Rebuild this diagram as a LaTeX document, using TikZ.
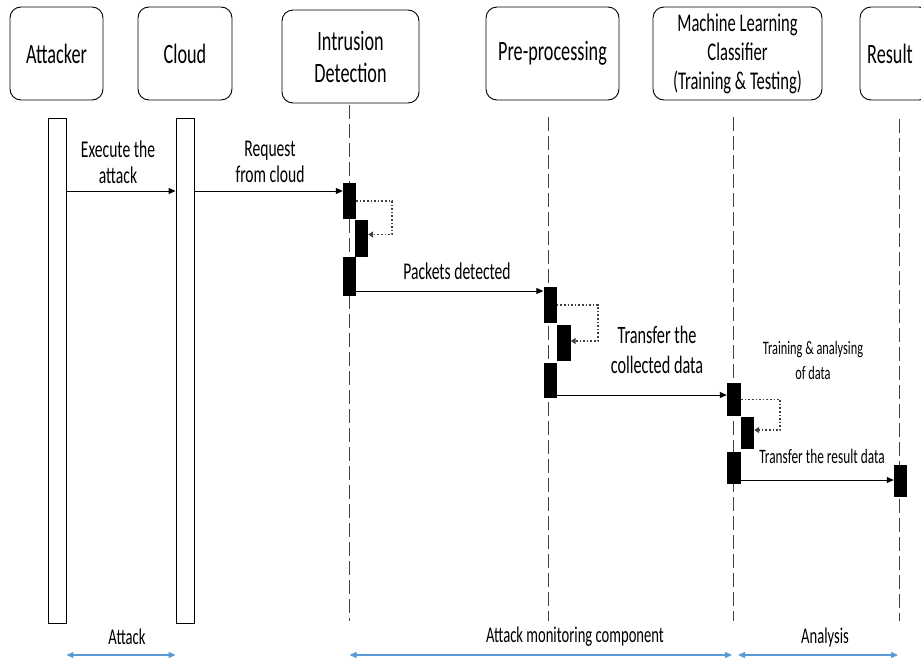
\documentclass[tikz,border=0pt]{standalone}
\usepackage{fontspec}
\setmainfont{Carlito}
\newfontfamily\cf[FakeStretch=0.65]{Carlito}
\usetikzlibrary{arrows.meta,calc}
\definecolor{arrblue}{HTML}{5B9BD5}
\definecolor{lifegray}{HTML}{404040}
\tikzset{
  hdr/.style={draw, line width=0.9pt, rounded corners=11pt, align=center, inner sep=0pt,
              minimum height=93pt, font=\cf\fontsize{28}{32}\selectfont},
  bar/.style={draw, line width=0.9pt, fill=white, inner sep=0pt, minimum width=18pt, minimum height=505pt},
  act/.style={fill=black, inner sep=0pt, minimum width=13pt},
  life/.style={dash pattern=on 14pt off 5pt, line width=0.9pt, lifegray},
  msg/.style={-{Triangle[length=7pt,width=6pt]}, line width=1pt},
  selfmsg/.style={dotted, line width=1.6pt, black!75, -{Triangle[length=5pt,width=6pt]}},
  spanarrow/.style={{Triangle[length=7pt,width=6pt]}-{Triangle[length=7pt,width=6pt]}, line width=1.3pt, arrblue},
  lbl/.style={align=center, inner sep=0pt, font=\cf\fontsize{24}{26}\selectfont},
}
\begin{document}
\begin{tikzpicture}[x=1pt,y=-1pt]
\useasboundingbox (0,0) rectangle (921,659);
\fill[white] (0,0) rectangle (921,659);
\clip (0,0) rectangle (921,659);

% headers
\node[hdr, minimum width=93pt]  (hA) at (56.5,53.5) {Attacker};
\node[hdr, minimum width=94pt]  (hC) at (185,53.5) {Cloud};
\node[hdr, minimum width=137pt, font=\cf\fontsize{28}{32}\selectfont] (hI) at (350.5,56.5) {Intrusion\\Detection};
\node[hdr, minimum width=133pt] (hP) at (552.5,53.5) {Pre-processing};
\node[hdr, minimum width=169pt, font=\cf\fontsize{25.5}{29}\selectfont] (hM) at (737.5,53.5) {Machine Learning\\Classifier\\(Training \& Testing)};
\node[hdr, minimum width=70pt]  (hR) at (895,53.5) {};
\node[font=\cf\fontsize{28}{32}\selectfont, inner sep=0pt] (tR) at (890,53.5) {Result};

% lifelines
\node[bar, anchor=north] (lA) at (57,118) {};
\node[bar, anchor=north] (lC) at (185,118) {};
\coordinate (sI) at (349.5,105);  \coordinate (eI) at (349.5,621);
\coordinate (sP) at (548,117);    \coordinate (eP) at (548,621);
\coordinate (sM) at (733.5,117);  \coordinate (eM) at (733.5,621);
\coordinate (sR) at (899.5,119);  \coordinate (eR) at (899.5,621);
\draw[life] (sI) -- (eI);
\draw[life] (sP) -- (eP);
\draw[life] (sM) -- (eM);
\draw[life] (sR) -- (eR);

% activation boxes
\node[act, minimum height=36pt] (a1) at (349.5,201) {};
\node[act, minimum height=37pt] (a2) at (361.5,238.5) {};
\node[act, minimum height=39pt] (a3) at (349.5,276.5) {};
\node[act, minimum height=36pt] (b1) at (550,305) {};
\node[act, minimum height=36pt, minimum width=14pt] (b2) at (563.5,343) {};
\node[act, minimum height=35pt] (b3) at (550,380.5) {};
\node[act, minimum height=33pt, minimum width=14pt] (c1) at (734,399.5) {};
\node[act, minimum height=32pt] (c2) at (747.5,433) {};
\node[act, minimum height=32pt, minimum width=14pt] (c3) at (734,468) {};
\node[act, minimum height=32pt] (r1) at (900.5,481) {};

% self calls
\draw[selfmsg] (a1.east) -- ++(36,0) |- ([yshift=4pt]a2.east);
\draw[selfmsg] (b1.east) -- ++(41,0) |- ([yshift=2pt]b2.east);
\draw[selfmsg] (c1.east) -- ++(39,0) |- ([yshift=3pt]c2.east);

% messages
\coordinate (m1) at (0,191);
\coordinate (m2) at (0,291);
\coordinate (m3) at (0,395);
\coordinate (m4) at (0,480);
\draw[msg] (lA.east |- m1) -- (lC.west |- m1);
\draw[msg] (lC.east |- m1) -- (a1.west |- m1);
\draw[msg] (a3.east |- m2) -- (b1.west |- m2);
\draw[msg] (b3.east |- m3) -- (c1.west |- m3);
\draw[msg] (c3.east |- m4) -- (r1.west |- m4);

% labels
\node[lbl] (t1) at (118,162) {Execute the\\attack};
\node[lbl] (t2) at (270,162) {Request\\from cloud};
\node[lbl] (t3) at (457,271) {Packets detected};
\node[lbl, font=\cf\fontsize{25}{30}\selectfont] (t4) at (657,350) {Transfer the\\collected data};
\node[lbl, font=\cf\fontsize{19}{25}\selectfont] (t5) at (813,360) {Training \& analysing\\of data};
\node[lbl, font=\cf\fontsize{20.5}{24}\selectfont] (t6) at (822,456) {Transfer the result data};

% bottom spans
\coordinate (bY) at (0,655);
\coordinate (mE) at (732,655);
\coordinate (nS) at (738,655);
\coordinate (nE) at (898,655);
\draw[spanarrow] (lA.east |- bY) -- (lC.west |- bY);
\draw[spanarrow] (sI |- bY) -- (mE);
\draw[spanarrow] (nS) -- (nE);
\node[lbl, font=\cf\fontsize{22.5}{24}\selectfont] (g1) at (127,637) {Attack};
\node[lbl, font=\cf\fontsize{22.5}{24}\selectfont] (g2) at (575,637) {Attack monitoring component};
\node[lbl, font=\cf\fontsize{22.5}{24}\selectfont] (g3) at (825,637) {Analysis};
\end{tikzpicture}
\end{document}
